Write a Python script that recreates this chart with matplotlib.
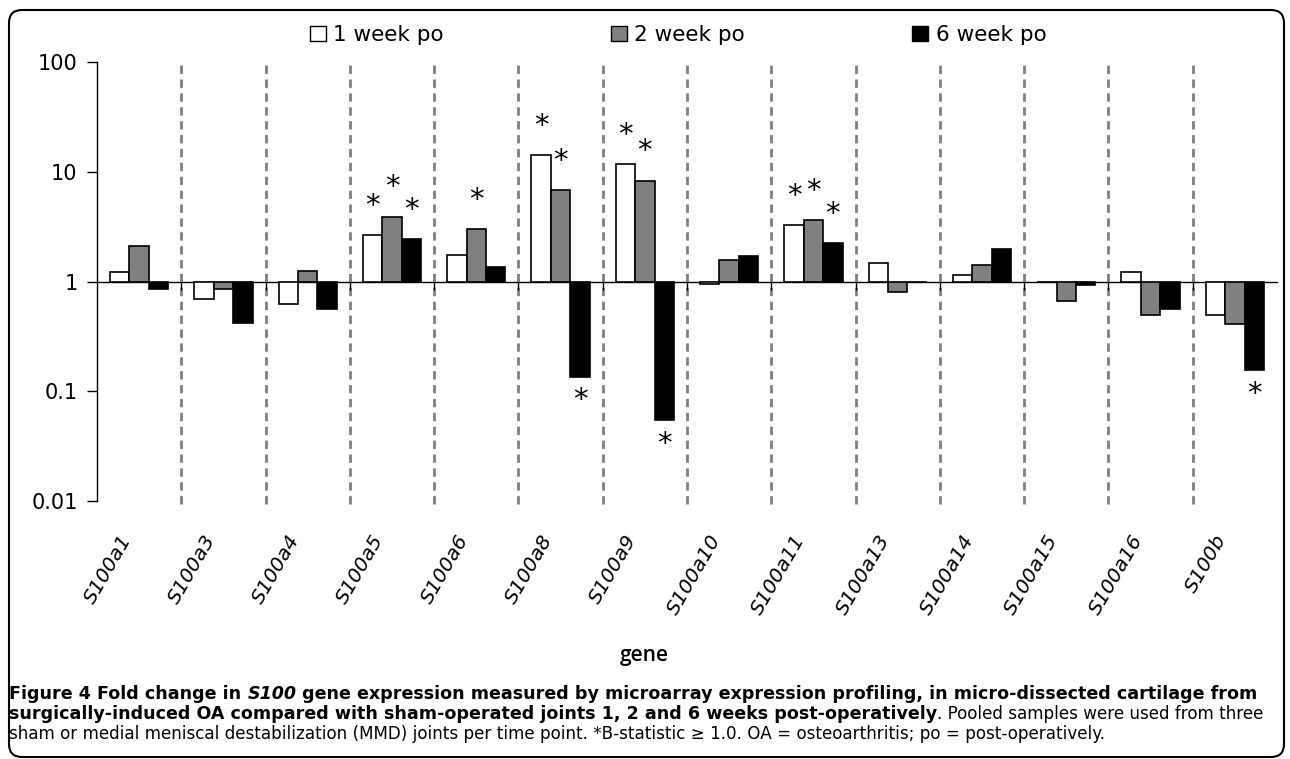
import numpy as np
import matplotlib.pyplot as plt
from matplotlib.patches import FancyBboxPatch, Patch
from matplotlib.text import Annotation
from matplotlib.transforms import blended_transform_factory

genes = ['S100a1', 'S100a3', 'S100a4', 'S100a5', 'S100a6', 'S100a8', 'S100a9',
         'S100a10', 'S100a11', 'S100a13', 'S100a14', 'S100a15', 'S100a16', 'S100b']
wk1 = [1.22, 0.70, 0.62, 2.64, 1.76, 14.2, 11.7, 0.94, 3.25, 1.46, 1.15, 1.0, 1.22, 0.50]
wk2 = [2.11, 0.85, 1.24, 3.90, 3.01, 6.86, 8.30, 1.58, 3.64, 0.81, 1.42, 0.67, 0.50, 0.41]
wk6 = [0.85, 0.42, 0.56, 2.44, 1.35, 0.136, 0.0545, 1.71, 2.23, 1.0, 1.98, 0.93, 0.56, 0.156]
# significance flags (B-statistic >= 1.0)
sig1 = [0, 0, 0, 1, 0, 1, 1, 0, 1, 0, 0, 0, 0, 0]
sig2 = [0, 0, 0, 1, 1, 1, 1, 0, 1, 0, 0, 0, 0, 0]
sig6 = [0, 0, 0, 1, 0, 1, 1, 0, 1, 0, 0, 0, 0, 1]
series_names = ['1 week po', '2 week po', '6 week po']
colors = ['white', '#808080', 'black']

W, H = 1290, 759
fig = plt.figure(figsize=(W / 100, H / 100), dpi=100)
ax = fig.add_axes([97 / W, 1 - 501 / H, 1180 / W, (501 - 62) / H])

x = np.arange(len(genes))
bw = 0.23
for i, (vals, sig, c) in enumerate(zip([wk1, wk2, wk6], [sig1, sig2, sig6], colors)):
    xs = x + (i - 1) * bw
    v = np.array(vals)
    ax.bar(xs, v - 1, bottom=1, width=bw, color=c, edgecolor='black', linewidth=1.2, zorder=3)
    for xi, vi, si in zip(xs, v, sig):
        if si:
            off = 21 if vi >= 1 else -17
            ax.annotate('*', (xi, vi), xytext=(0, off), textcoords='offset points',
                        ha='center', va='center', fontsize=21, zorder=4)

ax.set_yscale('log')
ax.set_ylim(0.01, 100)
ax.set_xlim(-0.5, len(genes) - 0.5)

# dashed separators
for b in np.arange(0.5, len(genes) - 0.5, 1):
    ax.plot([b, b], [0.0093, 100], ls=(0, (3, 2)), color='#808080', lw=2, clip_on=False, zorder=1)

ax.spines['top'].set_visible(False)
ax.spines['right'].set_visible(False)
ax.spines['bottom'].set_position(('data', 1))
ax.spines['bottom'].set_linewidth(1)
ax.spines['left'].set_linewidth(1)
ax.set_xticks(np.arange(0.5, len(genes) - 0.5, 1))
ax.set_xticklabels([])
ax.tick_params(axis='x', direction='out', length=6, width=1)
ax.set_yticks([0.01, 0.1, 1, 10, 100])
ax.set_yticklabels(['0.01', '0.1', '1', '10', '100'])
ax.yaxis.set_minor_locator(plt.NullLocator())
ax.tick_params(axis='y', direction='out', length=7, width=1, labelsize=15, pad=7)

trans = blended_transform_factory(ax.transData, ax.transAxes)
for xi, g in zip(x, genes):
    ax.text(xi - 0.05, -0.07, g, transform=trans, rotation=60, ha='right', va='top',
            fontsize=14.5, style='italic')

fig.text(644 / W, 1 - 656 / H, 'gene', ha='center', va='center', fontsize=15,
         family='Open Sans', weight='semibold')

handles = [Patch(facecolor=c, edgecolor='black', linewidth=1) for c in colors]
fig.legend(handles, series_names, loc='center', bbox_to_anchor=(678 / W, 1 - 35 / H),
           ncol=3, frameon=False, fontsize=15.5, handlelength=0.75, handleheight=0.75,
           handletextpad=0.35, columnspacing=7.75)

# caption, built piece by piece
pieces1 = [('Figure 4 Fold change in ', 'bold', 'normal'), ('S100', 'bold', 'italic'),
           (' gene expression measured by microarray expression profiling, in micro-dissected cartilage from',
            'bold', 'normal')]
pieces2 = [('surgically-induced OA compared with sham-operated joints 1, 2 and 6 weeks post-operatively',
            'bold', 'normal'),
           ('. Pooled samples were used from three', 'normal', 'normal')]
pieces3 = [('sham or medial meniscal destabilization (MMD) joints per time point. *B-statistic \u2265 1.0. '
            'OA = osteoarthritis; po = post-operatively.', 'normal', 'normal')]
lines = []
for y, pieces in [(694, pieces1), (714, pieces2), (734, pieces3)]:
    last = None
    row = []
    for s, wgt, sty in pieces:
        kw = dict(fontsize=11, weight=wgt, style=sty, family='DejaVu Sans', color='black')
        if last is None:
            t = fig.text(9 / W, 1 - y / H, s, ha='left', va='center', **kw)
        else:
            t = fig.add_artist(Annotation(s, xy=(1, 0), xycoords=last, xytext=(0, 0),
                                          textcoords='offset points', ha='left', va='bottom', **kw))
        row.append(t)
        last = t
    lines.append(row)

# fit bold text to the first line and plain text to the last line
fig.canvas.draw()
r = fig.canvas.get_renderer()
def span(row):
    return row[-1].get_window_extent(r).x1 - row[0].get_window_extent(r).x0
bold_fs = 11 * (1248 - 9) / span(lines[0])
plain_fs = 11 * (1105 - 9) / span(lines[2])
for row in lines:
    for t in row:
        t.set_fontsize(bold_fs if t.get_weight() == 'bold' else plain_fs)

# frame around the figure
frame = FancyBboxPatch((9 / W, 1 - 757 / H), 1275 / W, (757 - 10) / H,
                       boxstyle='round,pad=0,rounding_size=%f' % (13 / W), mutation_aspect=W / H,
                       transform=fig.transFigure, facecolor='none', edgecolor='black', linewidth=1.5)
fig.add_artist(frame)

fig.savefig('out.png', dpi=100)
